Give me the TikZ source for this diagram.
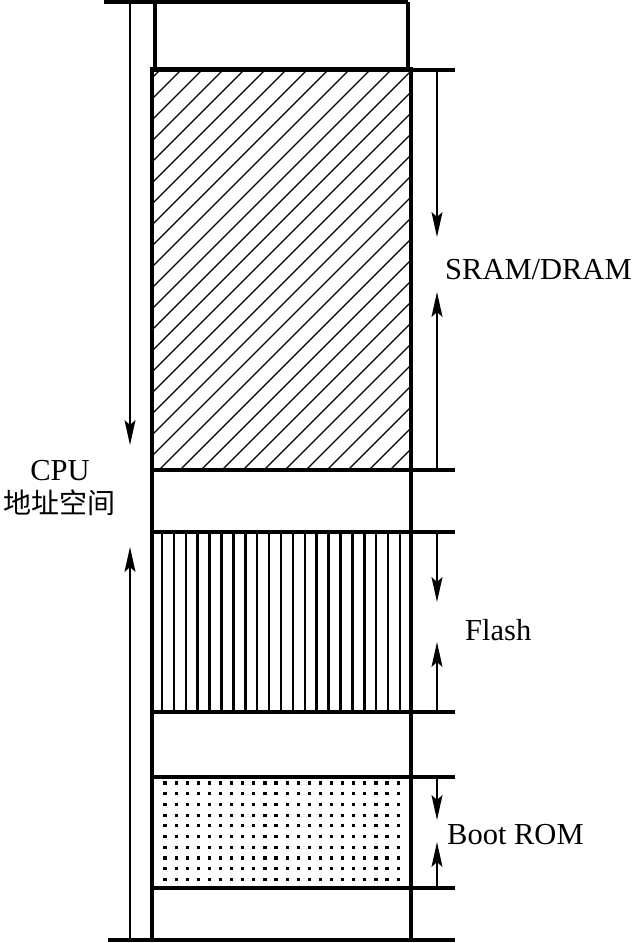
\documentclass[tikz,border=0pt]{standalone}
\usepackage{fontspec}
\setmainfont{Liberation Serif}
\newfontfamily\cjk{Noto Sans CJK SC}
\usetikzlibrary{arrows.meta}
\begin{document}
\begin{tikzpicture}[x=1pt,y=-1pt,
  frame/.style={line width=3.2pt},
  dim/.style={line width=1.6pt,-{Stealth[length=25pt,width=11pt,inset=5pt]}},
  hatchline/.style={line width=1.2pt},
  vline/.style={line width=2.5pt},
  lbl/.style={font=\fontsize{30.5}{32}\selectfont, inner sep=0pt}]
\useasboundingbox (0,0) rectangle (633,943);
% hatched SRAM region
\begin{scope}
  \clip (152,69) rectangle (411,470);
  \foreach \k in {0,...,32} {
    \pgfmathsetmacro{\c}{230+21*\k}
    \draw[hatchline] (\c-69,69) -- (\c-470,470);
  }
\end{scope}
% vertical lines in Flash region
\foreach \k in {0,...,20} {
  \pgfmathsetmacro{\xx}{162+11.9*\k}
  \draw[vline] (\xx,532) -- (\xx,712);
}
% dots in Boot ROM region
\foreach \i in {0,...,21} {
  \foreach \j in {0,...,9} {
    \pgfmathsetmacro{\xx}{165+11.1*\i}
    \pgfmathsetmacro{\yy}{783+10.7*\j}
    \fill (\xx-1.6,\yy-1.6) rectangle (\xx+1.6,\yy+1.6);
  }
}
% frames
\draw[frame] (104,2) -- (408,2);
\draw[frame] (155,2) -- (155,69);
\draw[frame] (408,2) -- (408,69);
\draw[frame] (152,69) rectangle (411,940);
\foreach \y in {70,470,532,712,777,888} {
  \draw[frame] (152,\y) -- (455,\y);
}
\draw[frame] (108,940) -- (455,940);
% dimension coordinates
\coordinate (la) at (130,2);
\coordinate (lb) at (130,445);
\coordinate (lc) at (130,940);
\coordinate (ld) at (130,547);
\coordinate (sa) at (437,70);
\coordinate (sb) at (437,237);
\coordinate (sc) at (437,470);
\coordinate (sd) at (437,292);
\coordinate (fa) at (437,532);
\coordinate (fb) at (437,602);
\coordinate (fc) at (437,712);
\coordinate (fd) at (437,642);
\coordinate (ba) at (437,777);
\coordinate (bb) at (437,820);
\coordinate (bc) at (437,888);
\coordinate (bd) at (437,842);
\draw[dim] (la) -- (lb);
\draw[dim] (lc) -- (ld);
\draw[dim] (sa) -- (sb);
\draw[dim] (sc) -- (sd);
\draw[dim] (fa) -- (fb);
\draw[dim] (fc) -- (fd);
\draw[dim] (ba) -- (bb);
\draw[dim] (bc) -- (bd);
% labels
\node[lbl] (cpu) at (60,471) {CPU};
\node[lbl,font=\fontsize{28}{30}\selectfont] (addr) at (60,503) {\cjk 地址空间};
\node[lbl,anchor=west] (sram) at (445,270) {SRAM/DRAM};
\node[lbl,anchor=west] (flash) at (465,630) {Flash};
\node[lbl,anchor=west] (boot) at (447,835) {Boot ROM};
\end{tikzpicture}
\end{document}
